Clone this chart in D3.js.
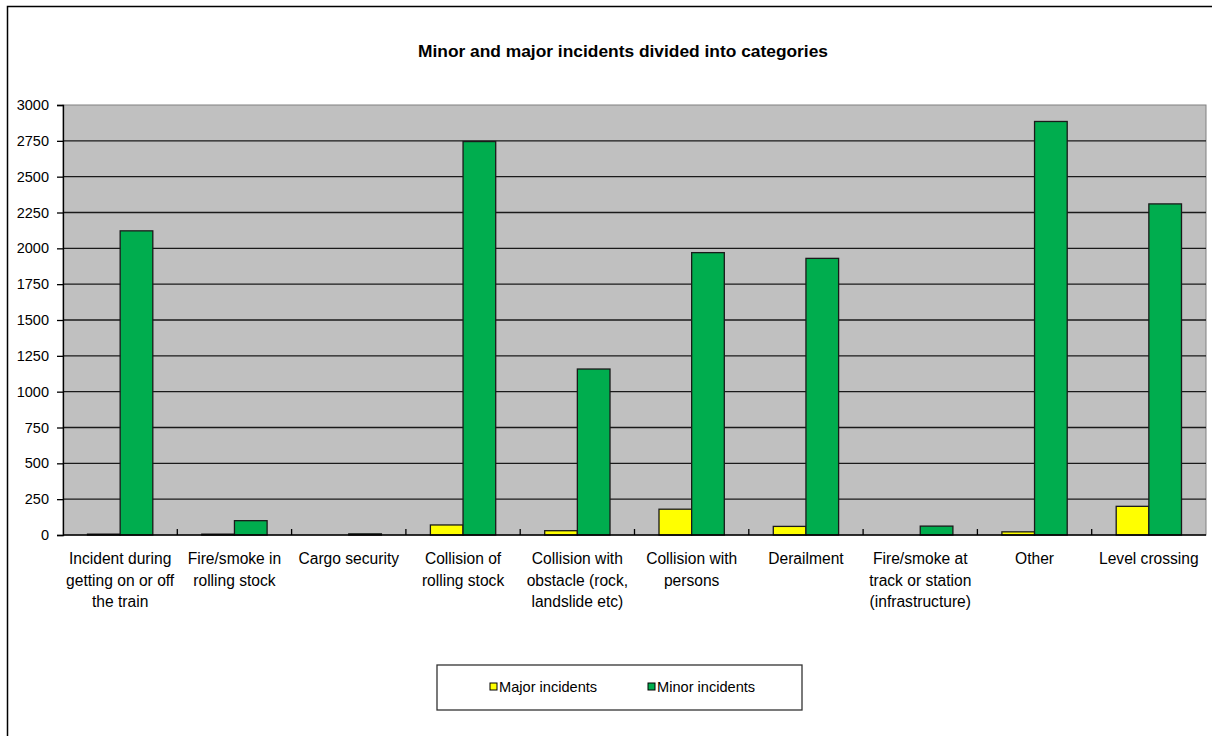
<!DOCTYPE html>
<html>
<head>
<meta charset="utf-8">
<script src="https://cdn.jsdelivr.net/npm/d3@7"></script>
<style>
  html, body { margin: 0; padding: 0; background: #fff; }
  svg { display: block; }
  text { font-family: "Liberation Sans", Arial, sans-serif; fill: #000; }
</style>
</head>
<body>
<svg id="chart" width="1212" height="736"></svg>
<script>
const categories = [
  ["Incident during", "getting on or off", "the train"],
  ["Fire/smoke in", "rolling stock"],
  ["Cargo security"],
  ["Collision of", "rolling stock"],
  ["Collision with", "obstacle (rock,", "landslide etc)"],
  ["Collision with", "persons"],
  ["Derailment"],
  ["Fire/smoke at", "track or station", "(infrastructure)"],
  ["Other"],
  ["Level crossing"]
];
const majorIncidents = [6, 6, 0, 70, 30, 180, 60, 0, 22, 200];
const minorIncidents = [2122, 100, 8, 2745, 1158, 1970, 1930, 62, 2885, 2310];
const yTicks = [0, 250, 500, 750, 1000, 1250, 1500, 1750, 2000, 2250, 2500, 2750, 3000];
const seriesNames = ["Major incidents", "Minor incidents"];
const seriesColors = ["#FFFF00", "#00AD4E"];
const title = "Minor and major incidents divided into categories";

const svg = d3.select("#chart");
const plot = { left: 63, right: 1206, top: 105, bottom: 535 };

// outer frame (only left and top edges visible)
svg.append("path")
  .attr("d", "M7.5,736 L7.5,6.5 L1212,6.5")
  .attr("fill", "none").attr("stroke", "#000").attr("stroke-width", 1.5);

svg.append("text")
  .attr("x", 623).attr("y", 57)
  .attr("text-anchor", "middle")
  .style("font-weight", "bold").style("font-size", "17.3px")
  .attr("textLength", 410).attr("lengthAdjust", "spacingAndGlyphs")
  .text(title);

const x = d3.scaleBand().domain(d3.range(categories.length))
  .range([plot.left, plot.right]).paddingInner(0).paddingOuter(0);
const y = d3.scaleLinear().domain([0, 3000]).range([plot.bottom, plot.top]);

// plot background
svg.append("rect")
  .attr("x", plot.left).attr("y", plot.top)
  .attr("width", plot.right - plot.left).attr("height", plot.bottom - plot.top)
  .attr("fill", "#C0C0C0").attr("stroke", "#808080").attr("stroke-width", 1);

// gridlines
svg.append("g").selectAll("line")
  .data(yTicks.filter(t => t > 0 && t < 3000))
  .join("line")
  .attr("x1", plot.left).attr("x2", plot.right)
  .attr("y1", d => y(d)).attr("y2", d => y(d))
  .attr("stroke", "#1a1a1a").attr("stroke-width", 1.3);

// y axis
const yAxis = d3.axisLeft(y).tickValues(yTicks).tickSize(6).tickPadding(8).tickFormat(d3.format("d"));
const gy = svg.append("g").attr("transform", `translate(${plot.left},0)`).call(yAxis);
gy.select(".domain").attr("stroke", "#000").attr("stroke-width", 1.3);
gy.selectAll(".tick line").attr("stroke", "#000").attr("stroke-width", 1.3);
gy.selectAll(".tick text").style("font-size", "14.5px").style("font-family", "'Liberation Sans', Arial, sans-serif").attr("fill", "#000");

// bars
const bw = x.bandwidth() / 3.5;
const series = [majorIncidents, minorIncidents];
series.forEach((vals, si) => {
  svg.append("g").selectAll("rect")
    .data(vals)
    .join("rect")
    .attr("x", (d, i) => x(i) + x.bandwidth() / 2 + (si === 0 ? -bw : 0))
    .attr("y", d => y(d))
    .attr("width", bw)
    .attr("height", d => y(0) - y(d))
    .attr("fill", seriesColors[si])
    .attr("stroke", d => d > 0 ? "#1a1a1a" : "none")
    .attr("stroke-width", 1.3);
});

// x axis baseline + inside ticks at band boundaries
svg.append("line")
  .attr("x1", plot.left).attr("x2", plot.right)
  .attr("y1", y(0)).attr("y2", y(0))
  .attr("stroke", "#000").attr("stroke-width", 1.5);
svg.append("g").selectAll("line")
  .data(d3.range(1, categories.length))
  .join("line")
  .attr("x1", i => x(i)).attr("x2", i => x(i))
  .attr("y1", y(0)).attr("y2", y(0) - 6)
  .attr("stroke", "#000").attr("stroke-width", 1.3);

// category labels
const labels = svg.append("g").selectAll("text")
  .data(categories)
  .join("text")
  .attr("text-anchor", "middle")
  .style("font-size", "15.6px")
  .attr("transform", (d, i) => `translate(${x(i) + x.bandwidth() / 2},564)`);
labels.selectAll("tspan")
  .data(d => d)
  .join("tspan")
  .attr("x", 0)
  .attr("dy", (d, j) => j === 0 ? 0 : 21.5)
  .text(d => d);

// legend
const lg = svg.append("g");
lg.append("rect").attr("x", 437).attr("y", 665).attr("width", 365).attr("height", 45)
  .attr("fill", "#fff").attr("stroke", "#333").attr("stroke-width", 1.3);
const legendX = [490, 648];
seriesNames.forEach((name, i) => {
  lg.append("rect").attr("x", legendX[i]).attr("y", 683).attr("width", 7).attr("height", 7)
    .attr("fill", seriesColors[i]).attr("stroke", "#000").attr("stroke-width", 1);
  lg.append("text").attr("x", legendX[i] + 9).attr("y", 692)
    .style("font-size", "14.6px").text(name);
});
</script>
</body>
</html>
